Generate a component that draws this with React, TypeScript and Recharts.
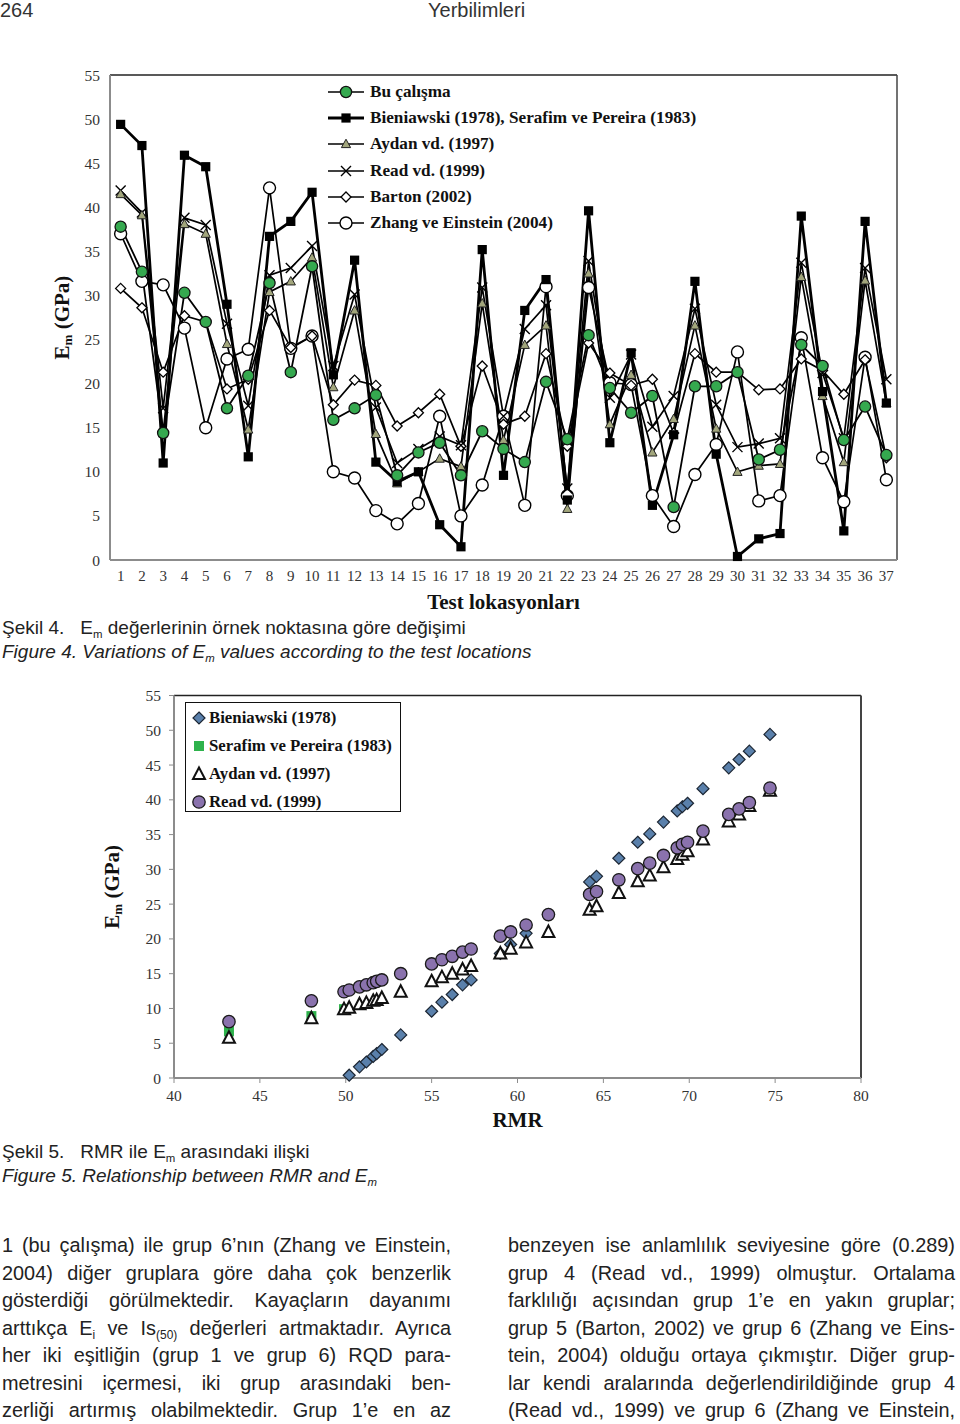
import React from "react";
import {
  LineChart,
  Line,
  XAxis,
  YAxis,
  ReferenceLine,
  ScatterChart,
  Scatter,
  Label,
} from "recharts";

// ---- Figure 4: Em per test location ----
const locations = [
  1, 2, 3, 4, 5, 6, 7, 8, 9, 10, 11, 12, 13, 14, 15, 16, 17, 18, 19, 20, 21,
  22, 23, 24, 25, 26, 27, 28, 29, 30, 31, 32, 33, 34, 35, 36, 37,
];
const buCalisma = [
  37.8, 32.7, 14.4, 30.3, 27.0, 17.2, 20.9, 31.4, 21.3, 33.3, 15.9, 17.2, 18.7,
  9.6, 12.2, 13.3, 9.6, 14.6, 12.6, 11.1, 20.2, 13.7, 25.5, 19.5, 16.7, 18.6,
  6.0, 19.7, 19.7, 21.3, 11.4, 12.5, 24.4, 22.0, 13.6, 17.4, 11.9,
];
const bieniawskiSerafim = [
  49.4, 47.0, 11.0, 45.9, 44.6, 29.0, 11.7, 36.7, 38.4, 41.7, 21.0, 34.0, 11.1,
  8.9, 10.0, 4.0, 1.5, 35.2, 9.6, 28.3, 31.8, 6.8, 39.6, 13.3, 23.5, 6.2, 14.2,
  31.6, 12.0, 0.4, 2.4, 3.0, 39.0, 19.1, 3.3, 38.4, 17.8,
];
const aydan = [
  41.5, 39.1, 14.4, 38.1, 37.0, 24.5, 14.8, 30.4, 31.6, 34.3, 19.6, 28.3, 14.3,
  8.7, 10.0, 11.5, 10.6, 29.1, 13.6, 24.4, 26.6, 5.8, 32.5, 15.4, 21.0, 12.2,
  16.0, 26.6, 14.9, 10.0, 10.7, 10.9, 32.1, 18.6, 11.1, 31.7, 17.8,
];
const read = [
  41.9, 39.4, 17.2, 38.8, 38.0, 26.8, 17.5, 32.3, 33.1, 35.6, 22.0, 30.1, 17.3,
  11.0, 12.6, 14.0, 13.0, 30.9, 16.3, 26.2, 28.9, 8.1, 33.9, 18.4, 23.3, 15.1,
  18.6, 28.5, 17.6, 12.8, 13.2, 13.8, 33.7, 21.2, 13.8, 33.1, 20.5,
];
const barton = [
  30.8, 28.6, 21.3, 27.7, 27.0, 19.4, 20.5, 28.3, 24.1, 25.4, 17.6, 20.4, 19.8,
  15.2, 16.7, 18.8, 12.9, 22.0, 15.4, 16.3, 23.4, 12.9, 24.6, 21.2, 19.8, 20.5,
  14.4, 23.4, 21.3, 21.3, 19.3, 19.4, 22.8, 21.5, 18.8, 22.7, 11.6,
];
const zhang = [
  37.0, 31.6, 31.2, 26.3, 15.0, 22.8, 23.9, 42.2, 24.0, 25.4, 10.0, 9.3, 5.6,
  4.1, 6.4, 16.3, 5.0, 8.5, 16.3, 6.2, 31.0, 7.3, 30.9, 20.1, 19.9, 7.3, 3.8,
  9.7, 13.1, 23.6, 6.7, 7.3, 25.2, 11.6, 6.6, 23.0, 9.1,
];
const emTicks = [0, 5, 10, 15, 20, 25, 30, 35, 40, 45, 50, 55];

// ---- Figure 5: RMR vs Em ----
const rmr = [
  43.2, 48.0, 49.9, 50.2, 50.8, 51.2, 51.6, 51.8, 52.1, 53.2, 55.0, 55.6, 56.2,
  56.8, 57.3, 59.0, 59.6, 60.5, 61.8, 64.2, 64.6, 65.9, 67.0, 67.7, 68.5, 69.3,
  69.6, 69.9, 70.8, 72.3, 72.9, 73.5, 74.7,
];
const emBieniawski = [
  null, null, null, 0.4, 1.6, 2.3, 3.1, 3.5, 4.1, 6.2, 9.6, 10.9, 12.0, 13.4,
  14.1, 17.9, 19.2, 20.8, 23.5, 28.2, 29.0, 31.6, 33.9, 35.1, 36.8, 38.4, 39.0,
  39.5, 41.6, 44.6, 45.8, 47.0, 49.4,
];
const emSerafim = [6.7, 8.9, 9.9];
const emAydan = [
  5.8, 8.6, 9.9, 10.1, 10.6, 10.8, 11.1, 11.2, 11.5, 12.4, 13.9, 14.5, 15.0,
  15.6, 16.1, 17.9, 18.6, 19.5, 21.0, 24.2, 24.7, 26.6, 28.3, 29.1, 30.3, 31.5,
  32.1, 32.6, 34.3, 36.9, 37.9, 39.1, 41.3,
];
const emRead = [
  8.1, 11.1, 12.4, 12.65, 13.1, 13.4, 13.7, 13.9, 14.1, 15.0, 16.4, 17.0, 17.5,
  18.1, 18.55, 20.4, 21.0, 22.0, 23.5, 26.4, 26.8, 28.5, 30.1, 30.9, 32.0, 33.1,
  33.6, 33.9, 35.5, 37.9, 38.7, 39.6, 41.7,
];
const rmrTicks = [40, 45, 50, 55, 60, 65, 70, 75, 80];

const serif = '"Liberation Serif", "Times New Roman", serif';
const sans = '"Liberation Sans", Arial, Helvetica, sans-serif';

const lineRows = locations.map((loc, i) => ({
  loc,
  bu: buCalisma[i],
  bien: bieniawskiSerafim[i],
  aydan: aydan[i],
  read: read[i],
  barton: barton[i],
  zhang: zhang[i],
}));

const pts = (vals: (number | null)[]) =>
  vals
    .map((em, i) => ({ rmr: rmr[i], em }))
    .filter((p) => p.em !== null);

// ---- markers ----
const GREEN = "#35a94f";
const OLIVE = "#a2a67c";

const greenDot = (p: any) =>
  p.cx == null ? null : (
    <circle key={p.index} cx={p.cx} cy={p.cy} r={5.6} fill={GREEN} stroke="#111" strokeWidth={1.3} />
  );
const squareDot = (p: any) =>
  p.cx == null ? null : (
    <rect key={p.index} x={p.cx - 4.6} y={p.cy - 4.6} width={9.2} height={9.2} fill="#000" />
  );
const triDot = (p: any) =>
  p.cx == null ? null : (
    <polygon
      key={p.index}
      points={`${p.cx},${p.cy - 4.8} ${p.cx + 4.6},${p.cy + 3.6} ${p.cx - 4.6},${p.cy + 3.6}`}
      fill={OLIVE}
      stroke="#222"
      strokeWidth={1}
    />
  );
const crossDot = (p: any) =>
  p.cx == null ? null : (
    <path
      key={p.index}
      d={`M${p.cx - 5},${p.cy - 5}L${p.cx + 5},${p.cy + 5}M${p.cx - 5},${p.cy + 5}L${p.cx + 5},${p.cy - 5}`}
      stroke="#000"
      strokeWidth={1.4}
    />
  );
const diamondDot = (p: any) =>
  p.cx == null ? null : (
    <polygon
      key={p.index}
      points={`${p.cx},${p.cy - 5} ${p.cx + 5},${p.cy} ${p.cx},${p.cy + 5} ${p.cx - 5},${p.cy}`}
      fill="#fff"
      stroke="#000"
      strokeWidth={1.3}
    />
  );
const openDot = (p: any) =>
  p.cx == null ? null : (
    <circle key={p.index} cx={p.cx} cy={p.cy} r={6} fill="#fff" stroke="#000" strokeWidth={1.4} />
  );

const blueDiamond = (p: any) => (
  <polygon
    points={`${p.cx},${p.cy - 6} ${p.cx + 6},${p.cy} ${p.cx},${p.cy + 6} ${p.cx - 6},${p.cy}`}
    fill="#5a80ab"
    stroke="#1c2633"
    strokeWidth={1.2}
  />
);
const greenSquare = (p: any) => (
  <rect x={p.cx - 5} y={p.cy - 5} width={10} height={10} fill="#2eb24c" />
);
const openTri = (p: any) => (
  <polygon
    points={`${p.cx},${p.cy - 6.5} ${p.cx + 6},${p.cy + 5} ${p.cx - 6},${p.cy + 5}`}
    fill="#fff"
    stroke="#111"
    strokeWidth={2}
  />
);
const purpleDot = (p: any) => (
  <circle cx={p.cx} cy={p.cy} r={6.2} fill="#8a72ad" stroke="#1a1a1a" strokeWidth={1.3} />
);

const emLabel = (cx: number, cy: number, size: number) => (
  <text
    x={cx}
    y={cy}
    transform={`rotate(-90 ${cx} ${cy})`}
    textAnchor="middle"
    dominantBaseline="central"
    fontFamily={serif}
    fontWeight="bold"
    fontSize={size}
    fill="#111"
  >
    E
    <tspan fontSize={size * 0.62} dy={size * 0.22}>m</tspan>
    <tspan dy={-size * 0.22}> (GPa)</tspan>
  </text>
);

const legend4 = [
  { name: "Bu çalışma", mark: greenDot, w: 1.6 },
  { name: "Bieniawski (1978), Serafim ve Pereira (1983)", mark: squareDot, w: 3 },
  { name: "Aydan vd. (1997)", mark: triDot, w: 1.6 },
  { name: "Read vd. (1999)", mark: crossDot, w: 1.6 },
  { name: "Barton (2002)", mark: diamondDot, w: 1.6 },
  { name: "Zhang ve Einstein (2004)", mark: openDot, w: 1.6 },
];

const legend5 = [
  { name: "Bieniawski (1978)", mark: blueDiamond },
  { name: "Serafim ve Pereira (1983)", mark: greenSquare },
  { name: "Aydan vd. (1997)", mark: openTri },
  { name: "Read vd. (1999)", mark: purpleDot },
];

const tickStyle = { fontFamily: serif, fontSize: 15.5, fill: "#333" };

const sub = { fontSize: "0.6em", verticalAlign: "-0.35em", lineHeight: 0 };

const leftCol: React.ReactNode[] = [
  "1 (bu çalışma) ile grup 6’nın (Zhang ve Einstein,",
  "2004) diğer gruplara göre daha çok benzerlik",
  "gösterdiği görülmektedir. Kayaçların dayanımı",
  <>
    arttıkça E<span style={sub}>i</span> ve Is<span style={sub}>(50)</span> değerleri artmaktadır. Ayrıca
  </>,
  "her iki eşitliğin (grup 1 ve grup 6) RQD para-",
  "metresini içermesi, iki grup arasındaki ben-",
  "zerliği artırmış olabilmektedir. Grup 1’e en az",
];
const rightCol: React.ReactNode[] = [
  "benzeyen ise anlamlılık seviyesine göre (0.289)",
  "grup 4 (Read vd., 1999) olmuştur. Ortalama",
  "farklılığı açısından grup 1’e en yakın gruplar;",
  "grup 5 (Barton, 2002) ve grup 6 (Zhang ve Eins-",
  "tein, 2004) olduğu ortaya çıkmıştır. Diğer grup-",
  "lar kendi aralarında değerlendirildiğinde grup 4",
  "(Read vd., 1999) ve grup 6 (Zhang ve Einstein,",
];

const SCALE = 0.97;

const BodyLine = ({ left, width, top, children }: any) => (
  <div
    style={{
      position: "absolute",
      left,
      top,
      width: width / SCALE,
      transform: `scaleX(${SCALE})`,
      transformOrigin: "0 0",
      fontFamily: sans,
      fontSize: 20.5,
      lineHeight: "22px",
      color: "#222",
      textAlign: "justify",
      textAlignLast: "justify",
      whiteSpace: "nowrap",
    }}
  >
    {children}
  </div>
);

const Caption = ({ top, italic, children }: any) => (
  <div
    style={{
      position: "absolute",
      left: 2,
      top,
      fontFamily: sans,
      fontSize: 19,
      lineHeight: "20px",
      fontStyle: italic ? "italic" : "normal",
      color: "#222",
      whiteSpace: "nowrap",
    }}
  >
    {children}
  </div>
);

export default function App() {
  return (
    <div
      style={{
        position: "absolute",
        left: 0,
        top: 0,
        width: 960,
        height: 1424,
        background: "#fff",
        overflow: "hidden",
      }}
    >
      <div style={{ position: "absolute", left: 0, top: 0, fontFamily: sans, fontSize: 20, lineHeight: "20px", color: "#333" }}>
        264
      </div>
      <div style={{ position: "absolute", left: 428, top: 0, fontFamily: sans, fontSize: 20, lineHeight: "20px", color: "#333" }}>
        Yerbilimleri
      </div>

      {/* Figure 4 */}
      <div style={{ position: "absolute", left: 0, top: 0 }}>
        <LineChart
          width={960}
          height={620}
          data={lineRows}
          margin={{ top: 75, right: 63, bottom: 30, left: 0 }}
        >
          <XAxis
            dataKey="loc"
            type="number"
            domain={[0.5, 37.5]}
            ticks={locations}
            interval={0}
            height={30}
            tickLine={false}
            tickSize={0}
            tickMargin={10}
            axisLine={{ stroke: "#8c8c8c", strokeWidth: 2 }}
            tick={{ ...tickStyle, fontSize: 15 }}
          >
            <Label
              content={(p: any) => (
                <text
                  x={p.viewBox.x + p.viewBox.width / 2}
                  y={p.viewBox.y + 49}
                  textAnchor="middle"
                  fontFamily={serif}
                  fontWeight="bold"
                  fontSize={21}
                  fill="#111"
                >
                  Test lokasyonları
                </text>
              )}
            />
          </XAxis>
          <YAxis
            type="number"
            domain={[0, 55]}
            ticks={emTicks}
            width={110}
            tickLine={false}
            tickSize={0}
            tickMargin={10}
            axisLine={{ stroke: "#8c8c8c", strokeWidth: 2 }}
            tick={tickStyle}
          >
            <Label content={(p: any) => emLabel(p.viewBox.x + 62, p.viewBox.y + p.viewBox.height / 2, 21)} />
          </YAxis>
          <ReferenceLine y={55} stroke="#222" strokeWidth={1.5} />
          <ReferenceLine x={37.5} stroke="#444" strokeWidth={1.5} />
          <Line dataKey="zhang" stroke="#000" strokeWidth={1.7} dot={openDot} isAnimationActive={false} />
          <Line dataKey="barton" stroke="#000" strokeWidth={1.7} dot={diamondDot} isAnimationActive={false} />
          <Line dataKey="read" stroke="#000" strokeWidth={1.7} dot={crossDot} isAnimationActive={false} />
          <Line dataKey="aydan" stroke="#000" strokeWidth={1.7} dot={triDot} isAnimationActive={false} />
          <Line dataKey="bien" stroke="#000" strokeWidth={2.8} dot={squareDot} isAnimationActive={false} />
          <Line dataKey="bu" stroke="#000" strokeWidth={1.8} dot={greenDot} isAnimationActive={false} />
        </LineChart>
        <div style={{ position: "absolute", left: 326, top: 79 }}>
          {legend4.map((it, i) => (
            <div key={i} style={{ display: "flex", alignItems: "center", height: 26.2 }}>
              <svg width={40} height={20}>
                <line x1={2} x2={38} y1={10} y2={10} stroke="#000" strokeWidth={it.w} />
                {it.mark({ cx: 20, cy: 10, index: i })}
              </svg>
              <span
                style={{
                  marginLeft: 4,
                  fontFamily: serif,
                  fontWeight: "bold",
                  fontSize: 17.2,
                  color: "#111",
                  background: "#fff",
                  whiteSpace: "nowrap",
                }}
              >
                {it.name}
              </span>
            </div>
          ))}
        </div>
      </div>

      <Caption top={618}>
        Şekil 4.<span style={{ marginLeft: 16 }}>E</span>
        <span style={sub}>m</span> değerlerinin örnek noktasına göre değişimi
      </Caption>
      <Caption top={642} italic>
        Figure 4. Variations of E<span style={sub}>m</span> values according to the test locations
      </Caption>

      {/* Figure 5 */}
      <div style={{ position: "absolute", left: 0, top: 640 }}>
        <ScatterChart width={960} height={500} margin={{ top: 55.5, right: 99, bottom: 32, left: 0 }}>
          <XAxis
            dataKey="rmr"
            type="number"
            domain={[40, 80]}
            ticks={rmrTicks}
            interval={0}
            height={30}
            tickSize={5}
            tickMargin={7}
            tickLine={{ stroke: "#8c8c8c" }}
            axisLine={{ stroke: "#8c8c8c", strokeWidth: 2 }}
            tick={tickStyle}
          >
            <Label
              content={(p: any) => (
                <text
                  x={p.viewBox.x + p.viewBox.width / 2}
                  y={p.viewBox.y + 49}
                  textAnchor="middle"
                  fontFamily={serif}
                  fontWeight="bold"
                  fontSize={21}
                  fill="#111"
                >
                  RMR
                </text>
              )}
            />
          </XAxis>
          <YAxis
            dataKey="em"
            type="number"
            domain={[0, 55]}
            ticks={emTicks}
            width={174}
            tickSize={5}
            tickMargin={8}
            tickLine={{ stroke: "#8c8c8c" }}
            axisLine={{ stroke: "#8c8c8c", strokeWidth: 2 }}
            tick={tickStyle}
          >
            <Label content={(p: any) => emLabel(p.viewBox.x + 112, p.viewBox.y + p.viewBox.height / 2, 21)} />
          </YAxis>
          <ReferenceLine y={55} stroke="#222" strokeWidth={1.5} />
          <ReferenceLine x={80} stroke="#444" strokeWidth={2} />
          <Scatter data={pts(emBieniawski)} shape={blueDiamond} isAnimationActive={false} />
          <Scatter data={pts(emSerafim)} shape={greenSquare} isAnimationActive={false} />
          <Scatter data={pts(emAydan)} shape={openTri} isAnimationActive={false} />
          <Scatter data={pts(emRead)} shape={purpleDot} isAnimationActive={false} />
        </ScatterChart>
        <div
          style={{
            position: "absolute",
            left: 185,
            top: 62,
            width: 214,
            height: 107,
            border: "1.5px solid #111",
            background: "#fff",
            paddingTop: 1,
          }}
        >
          {legend5.map((it, i) => (
            <div key={i} style={{ display: "flex", alignItems: "center", height: 28 }}>
              <svg width={22} height={20}>
                {it.mark({ cx: 13, cy: 10 })}
              </svg>
              <span
                style={{
                  marginLeft: 1,
                  fontFamily: serif,
                  fontWeight: "bold",
                  fontSize: 16.8,
                  color: "#111",
                  whiteSpace: "nowrap",
                }}
              >
                {it.name}
              </span>
            </div>
          ))}
        </div>
      </div>

      <Caption top={1142}>
        Şekil 5.<span style={{ marginLeft: 16 }}>RMR ile E</span>
        <span style={sub}>m</span> arasındaki ilişki
      </Caption>
      <Caption top={1166} italic>
        Figure 5. Relationship between RMR and E<span style={sub}>m</span>
      </Caption>

      {leftCol.map((l, i) => (
        <BodyLine key={"l" + i} left={2} width={449} top={1234 + i * 27.5}>
          {l}
        </BodyLine>
      ))}
      {rightCol.map((l, i) => (
        <BodyLine key={"r" + i} left={508} width={447} top={1234 + i * 27.5}>
          {l}
        </BodyLine>
      ))}
    </div>
  );
}
